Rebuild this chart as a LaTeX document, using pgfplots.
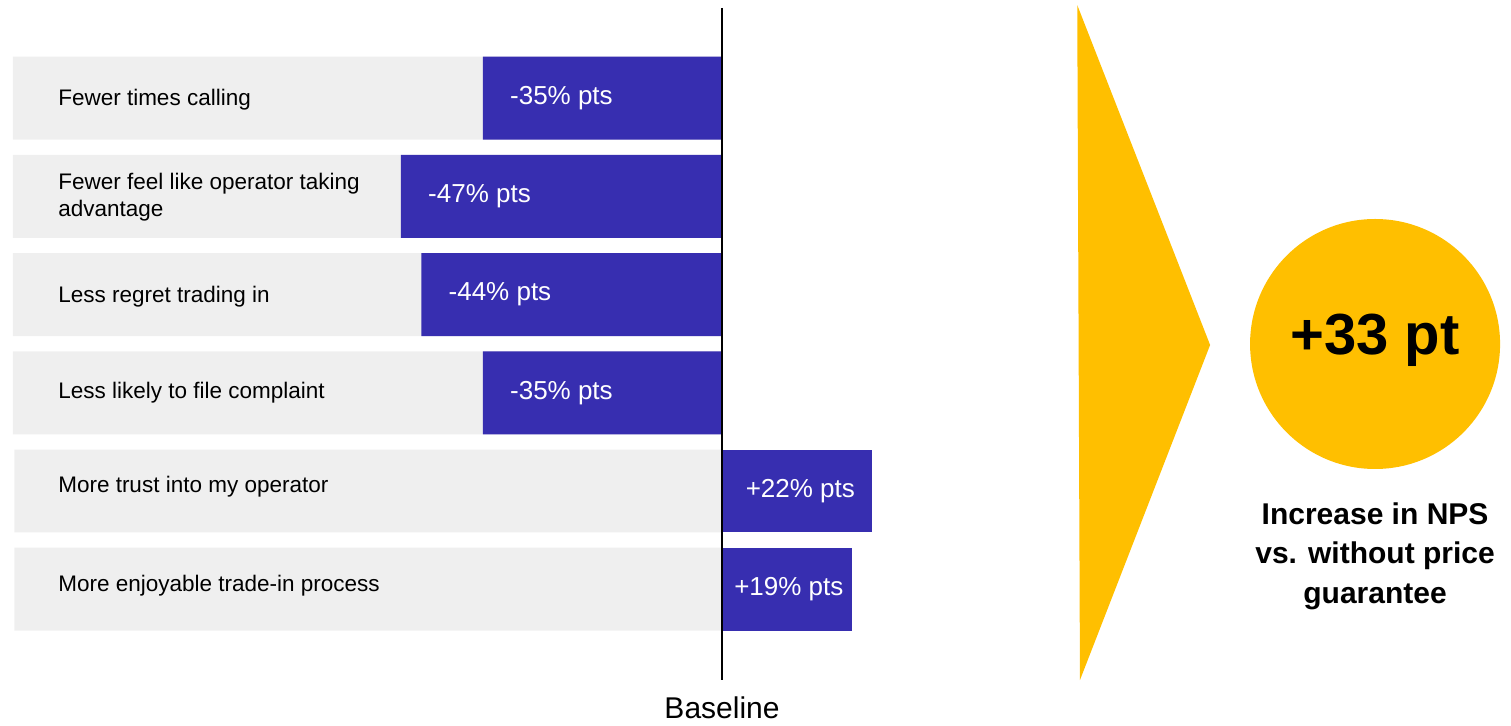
\documentclass[border=0pt]{standalone}
\usepackage{pgfplots}
\pgfplotsset{compat=1.18}
\usepackage{fontspec}
\setmainfont{Liberation Sans}
\definecolor{barblue}{RGB}{55,46,176}
\definecolor{bggrey}{RGB}{239,239,239}
\definecolor{gold}{RGB}{255,191,0}
\begin{document}
\begin{tikzpicture}
\begin{axis}[
  width=1511pt, height=725pt, scale only axis,
  xmin=-105.7, xmax=115.5,
  ymin=0, ymax=7.383, y dir=reverse,
  hide axis, clip=false,
  bar width=0.845,
  /pgf/number format/assume math mode=true,
  valuelabel/.style={
    point meta=x,
    nodes near coords={\pgfmathprintnumber[print sign]{\pgfplotspointmeta}\% pts},
  },
]
% grey background rows
\addplot[xbar, bar shift=0pt, fill=bggrey, draw=none] coordinates {
  (-103.8,1) (-103.8,2) (-103.8,3) (-103.8,4) (-103.6,5) (-103.6,6)};
% negative effects
\addplot[xbar, bar shift=0pt, fill=barblue, draw=none, valuelabel,
  every node near coord/.append style={anchor=west, xshift=27pt, inner sep=0pt,
    text=white, font=\fontsize{26}{30}\selectfont}]
  coordinates {(-35,1) (-47,2) (-44,3) (-35,4)};
% positive effects
\addplot[xbar, bar shift=0pt, fill=barblue, draw=none, valuelabel,
  every node near coord/.append style={anchor=center, xshift=-72pt, inner sep=0pt,
    text=white, font=\fontsize{26}{30}\selectfont}]
  coordinates {(22,5)};
\addplot[xbar, bar shift=0pt, fill=barblue, draw=none, valuelabel,
  every node near coord/.append style={anchor=center, xshift=-63pt, inner sep=0pt,
    text=white, font=\fontsize{26}{30}\selectfont}]
  coordinates {(19,6)};
% baseline
\addplot[black, line width=1.2pt] coordinates {(0,0.08) (0,6.925)};
% arrow triangle
\addplot[fill=gold, draw=none] coordinates {(52.0,0.051) (71.45,3.513) (52.4,6.925)} -- cycle;
% circle
\fill[gold] (axis cs:95.6,3.503) circle[radius=125pt];
\node[font=\bfseries\fontsize{58}{64}\selectfont] at (axis cs:95.6,3.46) {+33 pt};
\node[font=\bfseries\fontsize{30}{39.5}\selectfont, align=center] at (axis cs:95.6,5.66)
  {Increase in NPS\\vs. without price\\guarantee};
% category labels
\begin{scope}[every node/.style={anchor=west, inner sep=0pt, align=left,
   font=\fontsize{22.5}{27}\selectfont}]
\node at (axis cs:-97.2,1.02) {Fewer times calling};
\node at (axis cs:-97.2,2.01) {Fewer feel like operator taking\\advantage};
\node at (axis cs:-97.2,3.02) {Less regret trading in};
\node at (axis cs:-97.2,4.0) {Less likely to file complaint};
\node at (axis cs:-97.2,4.96) {More trust into my operator};
\node at (axis cs:-97.2,5.96) {More enjoyable trade-in process};
\end{scope}
\node[font=\fontsize{30}{36}\selectfont] at (axis cs:0,7.21) {Baseline};
\path (rel axis cs:0,0) rectangle (rel axis cs:1,1);
\end{axis}
\end{tikzpicture}
\end{document}
